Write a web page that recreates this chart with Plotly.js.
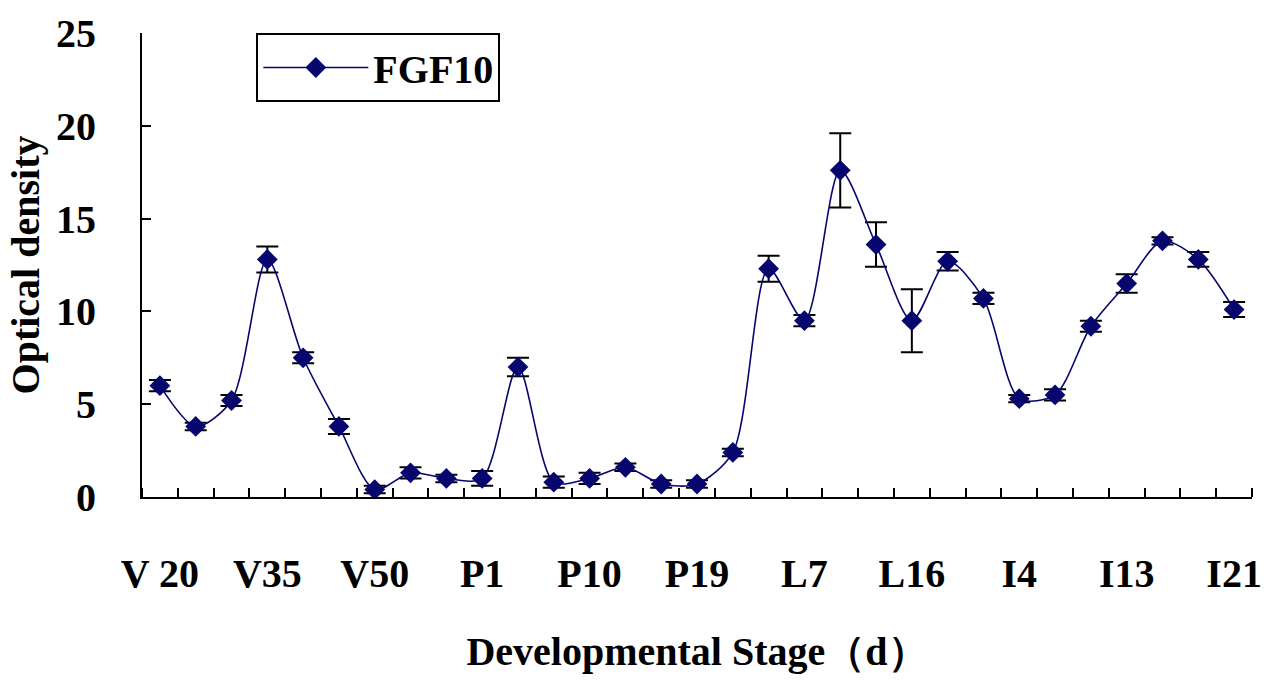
<!DOCTYPE html>
<html>
<head>
<meta charset="utf-8">
<script src="https://cdn.plot.ly/plotly-3.0.1.min.js"></script>
<style>
  html, body { margin: 0; padding: 0; background: #fff; }
  #chart { width: 1277px; height: 691px; }
</style>
</head>
<body>
<div id="chart"></div>
<script>
// optical density of FGF10 at each sampled stage (31 stages)
var density = [6.0, 3.8, 5.2, 12.8, 7.5, 3.8, 0.4, 1.3, 1.0, 1.0,
               7.0, 0.8, 1.0, 1.6, 0.7, 0.7, 2.4, 12.3, 9.5, 17.6,
               13.6, 9.5, 12.7, 10.7, 5.3, 5.5, 9.2, 11.5, 13.8, 12.8, 10.1];
var densityErr = [0.3, 0.2, 0.3, 0.7, 0.3, 0.4, 0.2, 0.3, 0.2, 0.4,
                  0.5, 0.3, 0.3, 0.2, 0.2, 0.2, 0.2, 0.7, 0.3, 2.0,
                  1.2, 1.7, 0.5, 0.3, 0.2, 0.3, 0.3, 0.5, 0.2, 0.4, 0.4];

// labelled stages (every third sample)
var labelIdx = [0, 3, 6, 9, 12, 15, 18, 21, 24, 27, 30];
var labelText = ['V 20', 'V35', 'V50', 'P1', 'P10', 'P19', 'L7', 'L16', 'I4', 'I13', 'I21'];

var stageIdx = density.map(function(d, i){ return i; });

var fontFam = '"Liberation Serif", "Times New Roman", serif';

var trace = {
  x: stageIdx,
  y: density,
  type: 'scatter',
  mode: 'lines+markers',
  name: '<b>FGF10</b>',
  line: {color: '#06066e', width: 1.6, shape: 'spline', smoothing: 0.8},
  marker: {symbol: 'diamond', size: 16, color: '#06066e'},
  error_y: {type: 'data', array: densityErr, visible: true,
            color: '#000', thickness: 2, width: 11}
};

var layout = {
  width: 1277,
  height: 691,
  margin: {l: 142, r: 25, t: 33, b: 194},
  paper_bgcolor: '#fff',
  plot_bgcolor: '#fff',
  font: {family: fontFam, color: '#000', size: 40},
  showlegend: true,
  legend: {
    x: 0.103, y: 1, xanchor: 'left', yanchor: 'top',
    bordercolor: '#000', borderwidth: 2, bgcolor: '#fff',
    itemwidth: 105,
    font: {family: fontFam, size: 40, color: '#000'}
  },
  xaxis: {
    range: [-0.5, 30.5],
    tickvals: labelIdx,
    ticktext: labelText.map(function(t){ return '<b>' + t + '</b>'; }),
    ticks: '',
    ticklabelstandoff: 40,
    showgrid: false,
    zeroline: false,
    showline: true, linecolor: '#000', linewidth: 2,
    minor: {tick0: -0.5, dtick: 1, ticks: 'inside', ticklen: 9,
            tickwidth: 2, tickcolor: '#000', showgrid: false},
    tickfont: {family: fontFam, size: 40},
    title: {text: '<b>Developmental Stage（d）</b>', standoff: 42,
            font: {family: fontFam, size: 40}}
  },
  yaxis: {
    range: [0, 25],
    dtick: 5,
    ticks: 'inside', ticklen: 9, tickwidth: 2, tickcolor: '#000',
    ticklabelstandoff: 36,
    showgrid: false,
    zeroline: false,
    showline: true, linecolor: '#000', linewidth: 2,
    tickfont: {family: fontFam, size: 40},
    tickprefix: '<b>', ticksuffix: '</b>',
    title: {text: '<b>Optical density</b>', standoff: 4,
            font: {family: fontFam, size: 40}}
  }
};

Plotly.newPlot('chart', [trace], layout, {displayModeBar: false});
</script>
</body>
</html>
